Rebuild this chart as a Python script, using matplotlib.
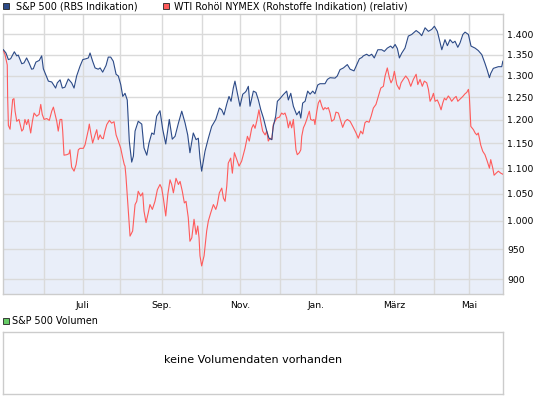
import numpy as np
import matplotlib
matplotlib.use("Agg")
import matplotlib.pyplot as plt
from matplotlib.ticker import FixedLocator, FuncFormatter, NullLocator

# ---- data (x = trading-day index since early May 2011) ----
sp_days = [0.3, 1.7, 3.0, 4.2, 6.2, 7.5, 8.3, 10.2, 11.4, 12.8, 14.1, 15.5, 16.4, 17.8, 19.6, 20.9,
           21.8, 23.1, 24.5, 26.3, 27.2, 28.4, 29.3, 30.8, 32.0, 33.4, 35.2, 37.0, 38.3, 39.7, 41.5,
           43.0, 44.7, 46.0, 46.9, 48.3, 49.6, 51.3, 52.3, 53.7, 55.5, 56.7, 58.0, 59.4, 60.9, 62.1,
           63.4, 64.5, 65.7, 66.9, 68.0, 69.3, 70.2, 71.1, 72.8, 74.7, 75.9, 77.4, 78.6, 80.1, 81.3,
           82.7, 84.5, 86.0, 87.6, 89.5, 91.1, 92.6, 94.4, 96.2, 98.0, 99.4, 100.6, 102.4, 103.9,
           105.1, 106.0, 106.9, 108.7, 110.5, 112.3, 114.5, 116.4, 117.7, 118.9, 120.4, 121.6, 122.7,
           123.9, 124.8, 126.1, 127.5, 129.0, 130.2, 130.8, 132.0, 132.9, 134.7, 136.1, 137.4, 138.7,
           140.1, 141.9, 143.1, 144.6, 145.4, 146.7, 147.6, 149.0, 150.8, 152.6, 153.5, 154.8, 156.2,
           158.0, 159.4, 160.2, 161.2, 162.5, 163.9, 165.2, 166.6, 167.8, 169.3, 170.5, 173.2, 174.5,
           175.9, 178.6, 179.8, 181.3, 183.1, 185.2, 186.7, 188.8, 190.3, 191.7, 193.0, 193.8, 195.6,
           196.9, 198.3, 199.7, 201.6, 203.7, 205.1, 206.7, 208.5, 209.6, 210.9, 212.1, 213.2, 214.5,
           216.2, 218.0, 219.8, 222.2, 223.9, 225.2, 227.0, 228.8, 230.6, 232.0, 233.6, 234.7, 236.0,
           237.7, 239.0, 240.4, 241.9, 243.1, 244.6, 245.8, 247.3, 248.5, 250.3, 251.7, 253.9, 255.6,
           257.5, 259.2, 260.4, 261.6, 262.3, 263.7, 266.4, 268.2, 268.8]
sp_values = [1362, 1354, 1338, 1340, 1357, 1347, 1349, 1328, 1330, 1342, 1330, 1315, 1316, 1332, 1336, 1347,
             1316, 1302, 1287, 1285, 1279, 1271, 1283, 1290, 1271, 1273, 1292, 1283, 1271, 1299, 1322,
             1338, 1340, 1342, 1354, 1334, 1318, 1315, 1318, 1308, 1324, 1344, 1344, 1334, 1303, 1299,
             1279, 1252, 1259, 1244, 1155, 1112, 1124, 1176, 1197, 1191, 1141, 1126, 1151, 1172, 1169,
             1208, 1220, 1179, 1149, 1201, 1159, 1165, 1193, 1219, 1193, 1168, 1131, 1172, 1158,
             1161, 1120, 1094, 1134, 1161, 1186, 1201, 1226, 1222, 1211, 1235, 1252, 1241,
             1271, 1287, 1259, 1230, 1257, 1261, 1264, 1275, 1230, 1264, 1261, 1244, 1222,
             1204, 1176, 1161, 1158, 1186, 1208, 1241, 1247, 1256, 1264, 1244, 1259, 1230,
             1211, 1219, 1204, 1237, 1241, 1264, 1257, 1264, 1258, 1278, 1281, 1281, 1291,
             1295, 1294, 1299, 1314, 1318, 1326, 1315, 1311, 1326, 1340, 1343, 1347, 1351,
             1347, 1351, 1342, 1362, 1362, 1358, 1366, 1371, 1366, 1375, 1365, 1342, 1354,
             1366, 1396, 1400, 1410, 1404, 1397, 1417, 1408, 1413, 1421, 1408, 1387, 1362,
             1387, 1372, 1387, 1379, 1383, 1368, 1379, 1400, 1406, 1400, 1371, 1366, 1360,
             1350, 1329, 1313, 1295, 1305, 1317, 1321, 1321, 1334]

oil_days = [0.3, 1.2, 2.4, 2.6, 3.0, 3.9, 4.8, 5.3, 6.0, 6.6, 7.5, 8.7, 10.2, 11.0, 11.9, 12.8, 13.7,
            15.0, 15.9, 16.8, 18.2, 19.5, 20.4, 21.2, 22.2, 23.6, 25.0, 26.3, 27.2, 28.1, 29.0, 29.8,
            30.8, 31.7, 32.2, 32.9, 34.4, 35.6, 36.1, 37.0, 38.3, 39.4, 40.6, 41.5, 43.3, 44.2, 45.1,
            46.0, 46.5, 47.3, 48.3, 49.6, 50.5, 51.3, 52.3, 53.2, 54.0, 54.9, 55.9, 57.3, 58.5, 59.8,
            60.9, 62.1, 63.4, 64.5, 65.3, 65.7, 66.2, 67.5, 68.4, 69.8, 71.1, 72.0, 72.8, 74.1, 75.2,
            75.9, 77.0, 78.2, 79.1, 80.4, 81.8, 83.1, 84.5, 85.4, 86.3, 87.6, 88.7, 89.9, 90.8, 91.7,
            93.1, 94.4, 95.3, 96.5, 97.6, 98.5, 99.7, 100.6, 101.6, 102.8, 103.9, 104.8, 105.5, 106.0,
            106.9, 108.2, 109.6, 110.5, 111.8, 113.2, 114.5, 115.3, 116.4, 117.7, 118.6, 119.5, 120.4,
            121.2, 122.5, 123.4, 124.5, 125.8, 127.0, 128.4, 130.2, 131.5, 132.5, 133.8, 134.7, 135.6,
            136.5, 137.7, 138.7, 139.7, 141.0, 141.9, 142.7, 143.7, 144.6, 145.4, 146.3, 147.3, 148.7,
            149.9, 150.8, 151.7, 152.6, 153.5, 154.4, 155.3, 156.2, 157.1, 157.6, 158.3, 159.4, 160.2,
            160.7, 161.6, 162.5, 163.4, 164.2, 164.8, 165.5, 166.6, 167.3, 167.8, 168.8, 169.6, 170.5,
            171.5, 172.3, 173.2, 174.1, 175.0, 175.9, 176.8, 178.1, 179.1, 180.4, 181.7, 182.7, 184.0,
            185.2, 186.7, 188.4, 189.9, 191.1, 192.4, 193.5, 194.7, 195.6, 196.9, 198.0, 199.2, 200.6,
            201.9, 203.2, 204.6, 205.5, 206.7, 207.8, 208.7, 209.6, 210.5, 211.8, 213.2, 214.1, 215.3,
            216.6, 218.0, 219.3, 220.7, 222.2, 223.1, 224.3, 225.5, 226.6, 227.9, 228.8, 229.7, 230.6,
            231.5, 232.4, 233.6, 234.7, 235.6, 236.5, 237.4, 238.3, 239.5, 240.4, 241.3, 242.6, 243.7,
            244.6, 245.8, 247.3, 248.5, 249.4, 250.3, 250.8, 251.6, 253.0, 253.9, 254.8, 255.6, 256.2,
            256.9, 258.0, 259.2, 260.4, 261.6, 262.3, 263.4, 264.1, 265.2, 266.4, 267.7, 268.8]
oil_values = [1360, 1350, 1325, 1252, 1188, 1180, 1223, 1245, 1247, 1219, 1197, 1201, 1176, 1180, 1201, 1190, 1201,
              1172, 1197, 1215, 1208, 1212, 1234, 1212, 1201, 1203, 1199, 1219, 1228, 1212, 1197, 1176,
              1201, 1201, 1176, 1126, 1127, 1129, 1137, 1102, 1094, 1107, 1137, 1140, 1140, 1147, 1163,
              1179, 1191, 1172, 1151, 1168, 1179, 1158, 1168, 1161, 1160, 1176, 1190, 1199, 1193, 1196,
              1168, 1155, 1140, 1120, 1107, 1104, 1084, 1018, 973, 982, 1030, 1036, 1055, 1046, 1052,
              1018, 997, 1015, 1030, 1021, 1036, 1058, 1068, 1061, 1042, 1009, 1049, 1077, 1068, 1052,
              1080, 1068, 1074, 1055, 1033, 1036, 1006, 964, 970, 1003, 976, 991, 970, 939,
              922, 939, 982, 1000, 1015, 1030, 1021, 1030, 1052, 1061, 1042, 1036, 1065,
              1110, 1120, 1090, 1131, 1117, 1104, 1114, 1140, 1165, 1155, 1182, 1190, 1182,
              1197, 1222, 1197, 1176, 1168, 1176, 1155, 1161, 1158, 1190, 1197, 1204, 1206,
              1215, 1212, 1215, 1204, 1183, 1197, 1183, 1201, 1158, 1137, 1127, 1131, 1137,
              1165, 1183, 1191, 1201, 1212, 1219, 1201, 1199, 1201, 1190, 1219, 1237, 1244,
              1230, 1222, 1227, 1224, 1227, 1215, 1197, 1201, 1217, 1215, 1197, 1184, 1197,
              1201, 1197, 1184, 1172, 1161, 1176, 1170, 1194, 1197, 1195, 1208, 1226, 1234,
              1252, 1271, 1275, 1299, 1318, 1295, 1283, 1291, 1310, 1279, 1268, 1283, 1291,
              1299, 1291, 1275, 1291, 1303, 1279, 1291, 1275, 1287, 1283, 1268, 1241, 1248,
              1259, 1241, 1244, 1233, 1222, 1237, 1248, 1244, 1253, 1248, 1241, 1248, 1252,
              1241, 1246, 1252, 1258, 1261, 1268, 1252, 1186, 1179, 1172, 1168, 1172, 1161,
              1147, 1134, 1127, 1114, 1100, 1117, 1100, 1086, 1090, 1094, 1090, 1088]

month_pos = [22, 43, 63, 85.5, 107, 127.5, 149, 168.5, 190, 210.5, 232, 250.5]
month_labels = ["", "Juli", "", "Sep.", "", "Nov.", "", "Jan.", "", "März", "", "Mai"]
y_ticks = [900, 950, 1000, 1050, 1100, 1150, 1200, 1250, 1300, 1350, 1400]
x_range = (0, 269)
y_range = (876, 1453)

series_labels = ["S&P 500 (RBS Indikation)", "WTI Rohöl NYMEX (Rohstoffe Indikation) (relativ)"]
volume_label = "S&P 500 Volumen"
volume_msg = "keine Volumendaten vorhanden"

# ---- style ----
BLUE = "#2c4a87"
RED = "#ff5b5b"
FILL = "#e9eef9"
GRID = "#dadada"
BORDER = "#cccccc"
TXT = "#000000"
FS = 6.9

W, H = 545, 398
fig = plt.figure(figsize=(W / 100, H / 100), dpi=100)
fig.patch.set_facecolor("white")

def fx(px):
    return px / W

def fy(py):
    return 1 - py / H

ax = fig.add_axes([fx(2.8), fy(294.3), fx(503.2) - fx(2.8), fy(13.9) - fy(294.3)])
ax.set_yscale("log")
ax.set_xlim(*x_range)
ax.set_ylim(*y_range)

ax.fill_between(sp_days, sp_values, y_range[0], color=FILL, lw=0, zorder=1)
for p in month_pos:
    ax.axvline(p, color=GRID, lw=1.0, zorder=2)
for t in y_ticks:
    ax.axhline(t, color=GRID, lw=1.0, zorder=2)
ax.plot(oil_days, oil_values, color=RED, lw=0.8, zorder=3)
ax.plot(sp_days, sp_values, color=BLUE, lw=0.8, zorder=4)

ax.yaxis.set_major_locator(FixedLocator(y_ticks))
ax.yaxis.set_minor_locator(NullLocator())
ax.yaxis.set_major_formatter(FuncFormatter(lambda v, _: f"{int(round(v)):,}".replace(",", ".")))
ax.yaxis.tick_right()
ax.xaxis.set_major_locator(FixedLocator(month_pos))
ax.xaxis.set_major_formatter(FuncFormatter(lambda v, i: month_labels[i] if i is not None and i < len(month_labels) else ""))
ax.xaxis.set_minor_locator(NullLocator())
ax.tick_params(axis="both", length=0, labelsize=6.7, colors=TXT)
ax.tick_params(axis="y", pad=2.8)
ax.tick_params(axis="x", pad=5)
for s in ax.spines.values():
    s.set_color(BORDER)
    s.set_linewidth(1.0)

# legend row
for (x0, tx, col, lab) in [(3.3, 15.6, BLUE, series_labels[0]), (162.7, 173.8, RED, series_labels[1])]:
    fig.patches.append(plt.Rectangle((fx(x0), fy(9.4)), fx(6.0), 6.0 / H,
                                     transform=fig.transFigure, facecolor=col,
                                     edgecolor="#222222", lw=0.6))
    fig.text(fx(tx), fy(6.3), lab, fontsize=FS, va="center", ha="left", color=TXT)

# volume panel
fig.patches.append(plt.Rectangle((fx(3.3), fy(324.2)), fx(6.0), 6.0 / H,
                                 transform=fig.transFigure, facecolor="#66cc66",
                                 edgecolor="#222222", lw=0.6))
fig.text(fx(12.0), fy(321.5), volume_label, fontsize=FS, va="center", ha="left", color=TXT)

vax = fig.add_axes([fx(2.8), fy(393.7), fx(503.2) - fx(2.8), fy(332.3) - fy(393.7)])
vax.set_xticks([])
vax.set_yticks([])
for s in vax.spines.values():
    s.set_color(BORDER)
    s.set_linewidth(1.0)
fig.text(fx(253), fy(360), volume_msg, ha="center", va="center", fontsize=8.0, color=TXT)

fig.savefig("out.png", dpi=100, facecolor="white")
